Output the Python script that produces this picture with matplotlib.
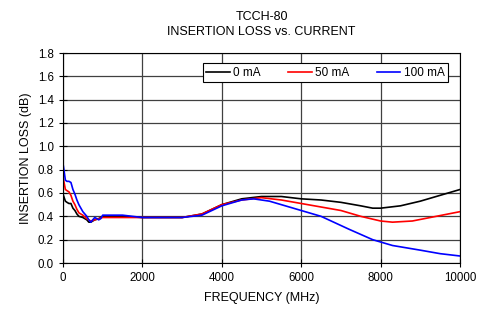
import matplotlib
matplotlib.use("Agg")
import matplotlib.pyplot as plt

plt.rcParams['font.family'] = ['Liberation Sans', 'DejaVu Sans']

freq_0 = [10, 60, 100, 150, 200, 250, 300, 350, 400, 500, 600, 650, 700, 800, 900, 1000, 1500, 2000, 2500, 3000, 3500, 4000, 4500, 5000, 5500, 6000, 6500, 7000, 7500, 7800, 8000, 8500, 9000, 9500, 10000]
loss_0 = [0.58, 0.53, 0.52, 0.51, 0.51, 0.47, 0.45, 0.42, 0.40, 0.39, 0.37, 0.35, 0.35, 0.37, 0.38, 0.40, 0.40, 0.39, 0.39, 0.39, 0.42, 0.50, 0.55, 0.57, 0.57, 0.55, 0.54, 0.52, 0.49, 0.47, 0.47, 0.49, 0.53, 0.58, 0.63]

freq_50 = [10, 60, 100, 150, 200, 250, 300, 350, 400, 500, 600, 650, 700, 800, 900, 1000, 1500, 2000, 2500, 3000, 3500, 4000, 4500, 5000, 5500, 6000, 6500, 7000, 7500, 8000, 8300, 8800, 9400, 10000]
loss_50 = [0.72, 0.63, 0.62, 0.61, 0.58, 0.53, 0.50, 0.46, 0.43, 0.41, 0.38, 0.37, 0.36, 0.37, 0.38, 0.39, 0.39, 0.39, 0.39, 0.39, 0.42, 0.50, 0.54, 0.56, 0.54, 0.51, 0.48, 0.45, 0.40, 0.36, 0.35, 0.36, 0.40, 0.44]

freq_100 = [10, 60, 100, 150, 200, 250, 300, 350, 400, 450, 500, 550, 600, 650, 700, 800, 850, 900, 950, 1000, 1500, 2000, 2500, 3000, 3500, 4000, 4500, 4800, 5200, 5800, 6500, 7200, 7800, 8300, 9000, 9500, 10000]
loss_100 = [0.83, 0.71, 0.70, 0.70, 0.69, 0.63, 0.59, 0.54, 0.50, 0.47, 0.44, 0.42, 0.40, 0.37, 0.35, 0.39, 0.38, 0.37, 0.38, 0.41, 0.41, 0.39, 0.39, 0.39, 0.41, 0.49, 0.54, 0.55, 0.53, 0.47, 0.40, 0.29, 0.20, 0.15, 0.11, 0.08, 0.06]

labels = ['0 mA', '50 mA', '100 mA']
colors = ['black', 'red', 'blue']

fig = plt.figure(figsize=(4.78, 3.11), dpi=100)
ax = fig.add_axes([63/478, 1 - 263/311, (460-63)/478, (263-53)/311])

for f, l, lab, c in zip([freq_0, freq_50, freq_100], [loss_0, loss_50, loss_100], labels, colors):
    ax.plot(f, l, color=c, lw=1.2, label=lab)

ax.set_xlim(0, 10000)
ax.set_ylim(0, 1.8)
ax.set_xticks([0, 2000, 4000, 6000, 8000, 10000])
ax.set_yticks([i * 0.2 for i in range(10)])
ax.set_yticklabels([f"{i*0.2:.1f}" for i in range(10)])
ax.grid(True, color='#404040', lw=0.9)
ax.set_axisbelow(True)
ax.tick_params(direction='inout', length=6, labelsize=8.3, width=0.8)
for s in ax.spines.values():
    s.set_linewidth(0.8)
ax.set_xlabel('FREQUENCY (MHz)', fontsize=9, labelpad=6)
ax.set_ylabel('INSERTION LOSS (dB)', fontsize=9, labelpad=4)
ax.set_title('TCCH-80\nINSERTION LOSS vs. CURRENT', fontsize=9, linespacing=1.35, pad=13)

leg = ax.legend(loc='upper right', ncol=3, fontsize=8.5, frameon=True, fancybox=False,
                edgecolor='black', framealpha=1, handlelength=2.0, handletextpad=0.3,
                columnspacing=2.3, borderpad=0.3, bbox_to_anchor=(0.985, 0.98))
leg.get_frame().set_linewidth(0.8)

fig.savefig('out.png', dpi=100)
